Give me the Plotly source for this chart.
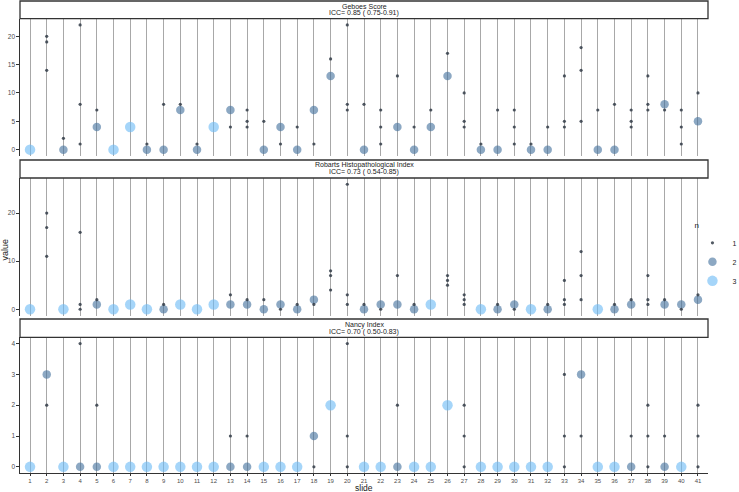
import plotly.graph_objects as go
from collections import Counter

slides = list(range(1, 42))

geboes_scores = [
    [0, 0, 0], [20, 19, 14], [0, 0, 2], [22, 8, 1], [4, 4, 7], [0, 0, 0], [4, 4, 4], [0, 0, 1],
    [0, 0, 8], [7, 7, 8], [0, 0, 1], [4, 4, 4], [7, 7, 4], [7, 5, 4], [0, 0, 5], [4, 4, 1],
    [0, 0, 4], [7, 7, 1], [13, 13, 16], [22, 8, 7], [0, 0, 8], [7, 4, 1], [4, 4, 13], [0, 0, 4],
    [4, 4, 7], [13, 13, 17], [10, 5, 4], [0, 0, 1], [0, 0, 7], [7, 4, 1], [0, 0, 1], [0, 0, 4],
    [13, 5, 4], [18, 14, 5], [0, 0, 7], [0, 0, 8], [7, 5, 4], [13, 8, 7], [8, 8, 7], [7, 4, 1],
    [5, 5, 10],
]
robarts_scores = [
    [0, 0, 0], [20, 17, 11], [0, 0, 0], [16, 1, 0], [1, 1, 2], [0, 0, 0], [1, 1, 1], [0, 0, 0],
    [0, 0, 1], [1, 1, 1], [0, 0, 0], [1, 1, 1], [1, 1, 3], [1, 1, 2], [0, 0, 2], [1, 1, 0],
    [0, 0, 1], [2, 2, 1], [8, 7, 4], [26, 3, 1], [0, 0, 1], [1, 1, 0], [1, 1, 7], [0, 0, 1],
    [1, 1, 1], [7, 6, 5], [3, 2, 1], [0, 0, 0], [0, 0, 1], [1, 1, 0], [0, 0, 0], [0, 0, 1],
    [6, 2, 1], [12, 7, 2], [0, 0, 0], [0, 0, 1], [1, 1, 2], [7, 2, 1], [1, 1, 2], [1, 1, 0],
    [2, 2, 3],
]
nancy_scores = [
    [0, 0, 0], [3, 3, 2], [0, 0, 0], [0, 0, 4], [0, 0, 2], [0, 0, 0], [0, 0, 0], [0, 0, 0],
    [0, 0, 0], [0, 0, 0], [0, 0, 0], [0, 0, 0], [0, 0, 1], [0, 0, 1], [0, 0, 0], [0, 0, 0],
    [0, 0, 0], [1, 1, 0], [2, 2, 2], [4, 1, 0], [0, 0, 0], [0, 0, 0], [0, 0, 2], [0, 0, 0],
    [0, 0, 0], [2, 2, 2], [2, 1, 0], [0, 0, 0], [0, 0, 0], [0, 0, 0], [0, 0, 0], [0, 0, 0],
    [3, 1, 0], [3, 3, 1], [0, 0, 0], [0, 0, 0], [0, 0, 1], [2, 1, 0], [0, 0, 1], [0, 0, 0],
    [2, 1, 0],
]

panel_titles = ["Geboes Score", "Robarts Histopathological Index", "Nancy Index"]
panel_icc = ["ICC= 0.85 ( 0.75-0.91)", "ICC= 0.73 ( 0.54-0.85)", "ICC= 0.70 ( 0.50-0.83)"]
panel_yticks = [[0, 5, 10, 15, 20], [0, 10, 20], [0, 1, 2, 3, 4]]
panel_yrange = [[-1.1, 23.1], [-1.3, 27.3], [-0.2, 4.2]]
n_levels = [1, 2, 3]

# layout geometry (plot area px from top, height H)
H = 473.0
panel_px = [(18.7, 155.9), (178.0, 315.5), (337.4, 473.0)]
strip_px = [(1.0, 18.7), (160.0, 178.0), (319.0, 337.4)]

def py(p):
    return (H - p) / H

n_style = {
    1: dict(size=3.2, color="rgba(50,60,72,0.85)"),
    2: dict(size=8.5, color="rgba(70,115,158,0.62)"),
    3: dict(size=10.5, color="rgba(110,188,245,0.62)"),
}

fig = go.Figure()
all_scores = [geboes_scores, robarts_scores, nancy_scores]

for pi, scores in enumerate(all_scores):
    xs = {n: [] for n in n_levels}
    ys = {n: [] for n in n_levels}
    for s, vals in zip(slides, scores):
        for v, c in Counter(vals).items():
            xs[c].append(s)
            ys[c].append(v)
    suffix = "" if pi == 0 else str(pi + 1)
    for n in [3, 2, 1]:
        fig.add_trace(go.Scatter(
            x=xs[n], y=ys[n], mode="markers",
            marker=dict(size=n_style[n]["size"], color=n_style[n]["color"], line=dict(width=0)),
            name=str(n), legendgroup=str(n), showlegend=(pi == 0), legendrank=n,
            xaxis="x" + suffix, yaxis="y" + suffix, hoverinfo="x+y",
        ))

font_family = "Liberation Sans, Arial, sans-serif"
layout = dict(
    width=739, height=492,
    margin=dict(l=20, r=31, t=0, b=492 - int(H), autoexpand=False),
    paper_bgcolor="white", plot_bgcolor="white",
    font=dict(family=font_family, size=7, color="#4d4d4d"),
    showlegend=True,
    legend=dict(
        title=dict(text="n", font=dict(size=8, color="#1a1a1a")),
        xref="container", yref="container",
        x=0.937, y=0.557, xanchor="left", yanchor="top",
        font=dict(size=7, color="#1a1a1a"), tracegroupgap=0,
        itemsizing="trace", bgcolor="rgba(0,0,0,0)",
    ),
)
for pi in range(3):
    suffix = "" if pi == 0 else str(pi + 1)
    lo, hi = panel_px[pi]
    layout["xaxis" + suffix] = dict(
        domain=[0, 1], anchor="y" + suffix, range=[0.4, 41.6],
        tickmode="array", tickvals=slides, ticktext=[str(s) for s in slides],
        showticklabels=(pi == 2), ticks="outside" if pi == 2 else "", ticklen=2,
        tickcolor="#333333", tickfont=dict(size=6, color="#4d4d4d"),
        showgrid=True, gridcolor="#a8a8a8", gridwidth=1,
        zeroline=False, showline=(pi == 2), linecolor="#333333", linewidth=1.2,
        fixedrange=True,
    )
    if pi != 0:
        layout["xaxis" + suffix]["matches"] = "x"
    layout["yaxis" + suffix] = dict(
        domain=[py(hi), py(lo)], anchor="x" + suffix, range=panel_yrange[pi],
        tickmode="array", tickvals=panel_yticks[pi],
        ticks="outside", ticklen=2.5, tickcolor="#333333",
        tickfont=dict(size=6.5, color="#4d4d4d"),
        showgrid=False, zeroline=False, showline=True, linecolor="#333333", linewidth=1.2,
        fixedrange=True,
    )
fig.update_layout(**layout)

# strips
for pi in range(3):
    top, bot = strip_px[pi]
    fig.add_shape(type="rect", xref="paper", yref="paper", x0=0, x1=1, y0=py(bot), y1=py(top),
                  line=dict(color="#333333", width=1.3), fillcolor="white", layer="above")
    mid = (top + bot) / 2
    fig.add_annotation(xref="paper", yref="paper", x=0.5, y=py(mid - 3.6), text=panel_titles[pi],
                       showarrow=False, font=dict(size=7, color="#1a1a1a"), yanchor="middle")
    fig.add_annotation(xref="paper", yref="paper", x=0.5, y=py(mid + 3.4), text=panel_icc[pi],
                       showarrow=False, font=dict(size=7, color="#1a1a1a"), yanchor="middle")

# axis titles
fig.add_annotation(xref="paper", yref="paper", x=-0.0225, y=py(250), xanchor="center", yanchor="middle",
                   text="value", textangle=-90, showarrow=False, font=dict(size=9, color="#1a1a1a"))
fig.add_annotation(xref="paper", yref="paper", x=0.5, y=py(494), xanchor="center", yanchor="bottom",
                   text="slide", showarrow=False, font=dict(size=8.5, color="#1a1a1a"), borderpad=0)

fig.write_html("out.html", config={"displayModeBar": False},
               post_script="document.body.style.margin='0';document.body.style.overflow='hidden';")
